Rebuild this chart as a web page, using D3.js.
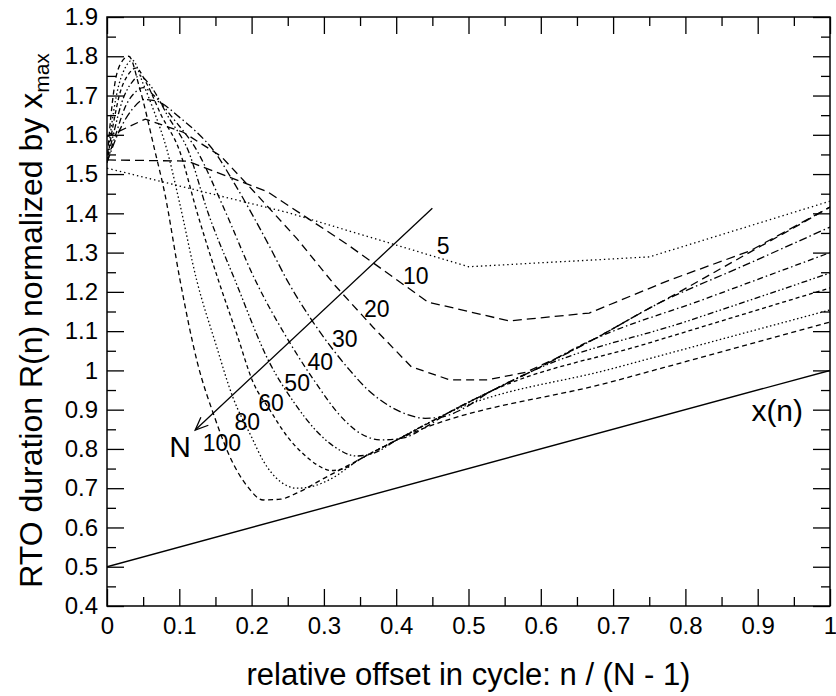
<!DOCTYPE html>
<html><head><meta charset="utf-8">
<script src="https://cdn.jsdelivr.net/npm/d3@7"></script>
<style>
html,body{margin:0;padding:0;background:#fff;}
text{font-family:"Liberation Sans",Arial,Helvetica,sans-serif;fill:#000;}
</style></head>
<body><svg id="chart" width="836" height="696"></svg>
<script>
// ---- data ----
const xTickValues = [0,0.1,0.2,0.3,0.4,0.5,0.6,0.7,0.8,0.9,1];
const xTickLabels = ["0","0.1","0.2","0.3","0.4","0.5","0.6","0.7","0.8","0.9","1"];
const yTickValues = [0.4,0.5,0.6,0.7,0.8,0.9,1.0,1.1,1.2,1.3,1.4,1.5,1.6,1.7,1.8,1.9];
const yTickLabels = ["0.4","0.5","0.6","0.7","0.8","0.9","1","1.1","1.2","1.3","1.4","1.5","1.6","1.7","1.8","1.9"];
const xMinor = [0.05,0.15,0.25,0.35,0.45,0.55,0.65,0.75,0.85,0.95];
const yMinor = [0.45,0.55,0.65,0.75,0.85,0.95,1.05,1.15,1.25,1.35,1.45,1.55,1.65,1.75,1.85];

const seriesNames = ["5","10","20","30","40","50","60","80","100"];
const N5  = [[0,1.515],[0.25,1.402],[0.5,1.264],[0.75,1.289],[1,1.431]];
const N10 = [[0,1.536],[0.111,1.533],[0.222,1.455],[0.333,1.32],[0.444,1.174],[0.556,1.126],[0.667,1.146],[0.778,1.23],[0.889,1.304],[1,1.416]];
const N20 = [[0,1.595],[0.053,1.64],[0.105,1.607],[0.158,1.545],[0.211,1.44],[0.263,1.335],[0.316,1.215],[0.368,1.11],[0.421,1.009],[0.474,0.976],[0.526,0.976],[0.579,0.995],[0.632,1.04],[0.684,1.09],[0.737,1.145],[0.789,1.197],[0.842,1.252],[0.895,1.307],[0.947,1.36],[1,1.416]];
const N30 = [[0,1.53],[0.017,1.61],[0.035,1.665],[0.052,1.69],[0.07,1.685],[0.10,1.645],[0.125,1.605],[0.147,1.561],[0.175,1.48],[0.2,1.40],[0.225,1.315],[0.249,1.23],[0.285,1.123],[0.313,1.052],[0.336,1.0],[0.36,0.952],[0.39,0.91],[0.415,0.888],[0.44,0.878],[0.465,0.882],[0.49,0.9],[0.53,0.946],[0.59,1.0],[0.682,1.088],[0.76,1.168],[0.88,1.266],[1,1.365]];
const N40 = [[0,1.53],[0.012,1.60],[0.025,1.67],[0.04,1.71],[0.05,1.72],[0.065,1.70],[0.09,1.645],[0.124,1.561],[0.16,1.42],[0.205,1.23],[0.253,1.07],[0.29,0.965],[0.32,0.89],[0.35,0.84],[0.38,0.823],[0.41,0.828],[0.44,0.855],[0.474,0.894],[0.53,0.946],[0.59,1.0],[0.66,1.068],[0.83,1.184],[1,1.30]];
const N50 = [[0,1.53],[0.01,1.61],[0.02,1.68],[0.035,1.735],[0.045,1.75],[0.06,1.725],[0.085,1.645],[0.112,1.561],[0.14,1.40],[0.177,1.23],[0.225,1.019],[0.26,0.915],[0.29,0.845],[0.315,0.805],[0.345,0.782],[0.37,0.79],[0.40,0.822],[0.474,0.894],[0.53,0.946],[0.59,1.0],[0.8,1.124],[1,1.248]];
const N60 = [[0,1.53],[0.008,1.62],[0.017,1.70],[0.03,1.755],[0.04,1.77],[0.055,1.73],[0.075,1.65],[0.10,1.561],[0.125,1.40],[0.154,1.23],[0.18,1.09],[0.202,0.97],[0.225,0.90],[0.25,0.83],[0.27,0.79],[0.29,0.76],[0.31,0.745],[0.33,0.752],[0.35,0.774],[0.40,0.822],[0.474,0.894],[0.53,0.946],[0.75,1.07],[1,1.21]];
const N80 = [[0,1.53],[0.006,1.62],[0.013,1.70],[0.025,1.77],[0.035,1.79],[0.05,1.73],[0.065,1.66],[0.083,1.561],[0.10,1.43],[0.124,1.23],[0.15,1.07],[0.174,0.932],[0.20,0.83],[0.216,0.77],[0.239,0.718],[0.263,0.70],[0.285,0.705],[0.308,0.722],[0.35,0.774],[0.40,0.822],[0.47,0.89],[0.7,1.005],[1,1.154]];
const N100 = [[0,1.53],[0.005,1.64],[0.01,1.72],[0.02,1.785],[0.03,1.80],[0.045,1.72],[0.066,1.561],[0.08,1.45],[0.101,1.23],[0.125,1.02],[0.149,0.88],[0.17,0.78],[0.194,0.705],[0.216,0.670],[0.24,0.672],[0.263,0.688],[0.30,0.725],[0.35,0.774],[0.40,0.822],[0.7,0.972],[1,1.123]];
const xLine = [[0,0.5],[1,1.0]];

const labelPos = [[0.465,1.317],[0.427,1.240],[0.373,1.156],[0.329,1.080],[0.295,1.021],[0.263,0.968],[0.227,0.917],[0.194,0.869],[0.159,0.815]];
const arrowFrom = [0.45,1.413];
const arrowTo = [0.122,0.848];
const nLabelPos = [0.101,0.805];
const xnLabelPos = [0.927,0.899];

// ---- styles ----
const seriesData = [N5,N10,N20,N30,N40,N50,N60,N80,N100];
const dashes = ["1.4,3","9,5","8,5","8,3,1.5,3","6,3,1.5,3","6,2.5,1.5,2.5,1.5,2.5","4,3","1.5,2.5","5,3.5"];
const smooth = [false,false,false,true,true,true,true,true,true];

const svg = d3.select("#chart");
const L=107,R=830,T=17,B=606;
const x = d3.scaleLinear().domain([0,1]).range([L,R]);
const y = d3.scaleLinear().domain([0.4,1.9]).range([B,T]);

const defs = svg.append("defs");
defs.append("clipPath").attr("id","clip").append("rect").attr("x",L).attr("y",T).attr("width",R-L).attr("height",B-T);

const plot = svg.append("g").attr("clip-path","url(#clip)");
seriesData.forEach((d,i)=>{
  const line = d3.line().x(p=>x(p[0])).y(p=>y(p[1])).curve(smooth[i]?d3.curveMonotoneX:d3.curveLinear);
  plot.append("path").attr("d",line(d)).attr("fill","none").attr("stroke","#000")
    .attr("stroke-width",1.3).attr("stroke-dasharray",dashes[i]);
});
plot.append("path").attr("d",d3.line().x(p=>x(p[0])).y(p=>y(p[1]))(xLine))
  .attr("fill","none").attr("stroke","#000").attr("stroke-width",1.4);

// axes
const fs = 24;
function styleAxis(g){ g.select(".domain").remove(); g.selectAll("line").attr("stroke","#000").attr("stroke-width",1.3); g.selectAll("text").attr("font-size",fs).attr("font-family","Liberation Sans, Arial, sans-serif"); }
svg.append("g").attr("transform",`translate(0,${B})`)
  .call(d3.axisBottom(x).tickValues(xTickValues).tickFormat((d,i)=>xTickLabels[i]).tickSizeInner(-17).tickSizeOuter(0).tickPadding(11)).call(styleAxis);
svg.append("g").attr("transform",`translate(0,${B})`)
  .call(d3.axisBottom(x).tickValues(xMinor).tickFormat("").tickSizeInner(-9).tickSizeOuter(0)).call(styleAxis);
svg.append("g").attr("transform",`translate(0,${T})`)
  .call(d3.axisTop(x).tickValues(xTickValues).tickFormat("").tickSizeInner(-17).tickSizeOuter(0)).call(styleAxis);
svg.append("g").attr("transform",`translate(0,${T})`)
  .call(d3.axisTop(x).tickValues(xMinor).tickFormat("").tickSizeInner(-9).tickSizeOuter(0)).call(styleAxis);
svg.append("g").attr("transform",`translate(${L},0)`)
  .call(d3.axisLeft(y).tickValues(yTickValues).tickFormat((d,i)=>yTickLabels[i]).tickSizeInner(-17).tickSizeOuter(0).tickPadding(9)).call(styleAxis);
svg.append("g").attr("transform",`translate(${L},0)`)
  .call(d3.axisLeft(y).tickValues(yMinor).tickFormat("").tickSizeInner(-9).tickSizeOuter(0)).call(styleAxis);
svg.append("g").attr("transform",`translate(${R},0)`)
  .call(d3.axisRight(y).tickValues(yTickValues).tickFormat("").tickSizeInner(-17).tickSizeOuter(0)).call(styleAxis);
svg.append("g").attr("transform",`translate(${R},0)`)
  .call(d3.axisRight(y).tickValues(yMinor).tickFormat("").tickSizeInner(-9).tickSizeOuter(0)).call(styleAxis);
svg.append("rect").attr("x",L).attr("y",T).attr("width",R-L).attr("height",B-T).attr("fill","none").attr("stroke","#000").attr("stroke-width",1.5);

// annotations
const ax1=x(arrowFrom[0]), ay1=y(arrowFrom[1]), ax2=x(arrowTo[0]), ay2=y(arrowTo[1]);
svg.append("line").attr("x1",ax1).attr("y1",ay1).attr("x2",ax2).attr("y2",ay2).attr("stroke","#000").attr("stroke-width",1.3);
const ang=Math.atan2(ay1-ay2,ax1-ax2), hl=14, ha=0.4;
svg.append("path").attr("d",`M${ax2+hl*Math.cos(ang-ha)},${ay2+hl*Math.sin(ang-ha)}L${ax2},${ay2}L${ax2+hl*Math.cos(ang+ha)},${ay2+hl*Math.sin(ang+ha)}`)
  .attr("fill","none").attr("stroke","#000").attr("stroke-width",1.3);

svg.selectAll("text.nlab").data(seriesNames).enter().append("text").attr("class","nlab")
  .attr("x",(d,i)=>x(labelPos[i][0])).attr("y",(d,i)=>y(labelPos[i][1]))
  .attr("text-anchor","middle").attr("dominant-baseline","central").attr("font-size",23).text(d=>d);
svg.append("text").attr("x",x(nLabelPos[0])).attr("y",y(nLabelPos[1])).attr("text-anchor","middle").attr("dominant-baseline","central").attr("font-size",30).text("N");
svg.append("text").attr("x",x(xnLabelPos[0])).attr("y",y(xnLabelPos[1])).attr("text-anchor","middle").attr("dominant-baseline","central").attr("font-size",30).text("x(n)");

// axis titles
svg.append("text").attr("x",(L+R)/2).attr("y",685).attr("text-anchor","middle").attr("font-size",31).text("relative offset in cycle: n / (N - 1)");
const yt = svg.append("text").attr("transform",`translate(42,${(T+B)/2+9}) rotate(-90)`).attr("text-anchor","middle").attr("font-size",32);
yt.append("tspan").text("RTO duration R(n) normalized by x");
yt.append("tspan").attr("font-size",21).attr("dy",7).text("max");
</script></body></html>
